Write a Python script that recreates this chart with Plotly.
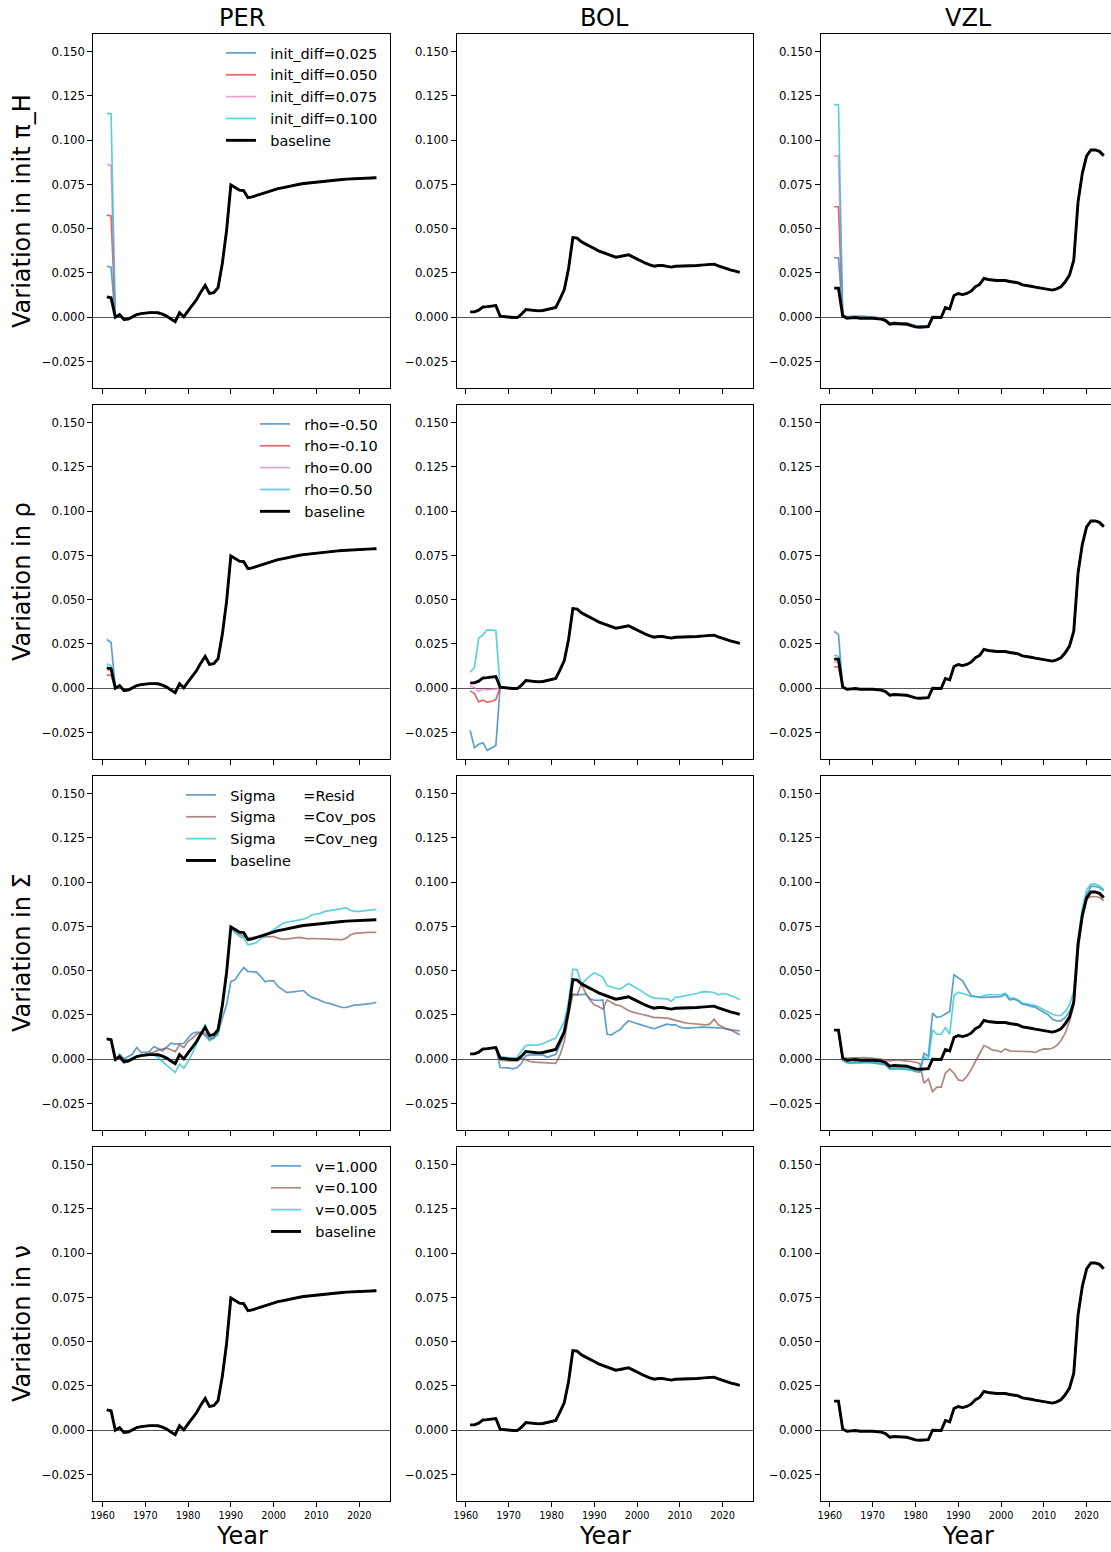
import plotly.graph_objects as go

# ---------------------------------------------------------------- data
years = list(range(1961, 2025))
countries = ["PER", "BOL", "VZL"]
row_titles = ["Variation in init π_H", "Variation in ρ", "Variation in Σ", "Variation in ν"]

per_base = [0.0115, 0.0110, 0.0000, 0.0015, -0.0013, -0.0010, 0.0002, 0.0015, 0.0020, 0.0025,
            0.0026, 0.0026, 0.0025, 0.0017, 0.0006, -0.0010, -0.0025, 0.0025, 0.0002, 0.0036,
            0.0068, 0.0100, 0.0143, 0.0180, 0.0134, 0.0138, 0.0166, 0.0303, 0.0490, 0.0747,
            0.0733, 0.0718, 0.0715, 0.0675, 0.0680, 0.0688, 0.0696, 0.0703, 0.0711, 0.0718,
            0.0726, 0.0731, 0.0737, 0.0743, 0.0747, 0.0751, 0.0755, 0.0758, 0.0761, 0.0764,
            0.0767, 0.0770, 0.0772, 0.0774, 0.0776, 0.0778, 0.0780, 0.0781, 0.0783, 0.0784,
            0.0785, 0.0786, 0.0787, 0.0788]
bol_base = [0.0030, 0.0030, 0.0040, 0.0058, 0.0060, 0.0062, 0.0066, 0.0006, 0.0002, 0.0000,
            -0.0002, -0.0002, 0.0017, 0.0043, 0.0040, 0.0038, 0.0036, 0.0038, 0.0043, 0.0049,
            0.0055, 0.0104, 0.0156, 0.0275, 0.0450, 0.0447, 0.0426, 0.0413, 0.0402, 0.0388,
            0.0375, 0.0366, 0.0358, 0.0349, 0.0339, 0.0343, 0.0347, 0.0353, 0.0341, 0.0328,
            0.0317, 0.0305, 0.0296, 0.0288, 0.0292, 0.0292, 0.0287, 0.0283, 0.0288, 0.0288,
            0.0289, 0.0290, 0.0291, 0.0292, 0.0294, 0.0296, 0.0298, 0.0300, 0.0290, 0.0281,
            0.0273, 0.0266, 0.0260, 0.0253]
vzl_base = [0.0164, 0.0164, 0.0006, -0.0006, -0.0004, -0.0002, -0.0006, -0.0004, -0.0006, -0.0006,
            -0.0009, -0.0011, -0.0019, -0.0040, -0.0036, -0.0036, -0.0036, -0.0040, -0.0047, -0.0055,
            -0.0057, -0.0053, -0.0053, 0.0000, 0.0000, -0.0002, 0.0055, 0.0047, 0.0123, 0.0134,
            0.0128, 0.0134, 0.0147, 0.0172, 0.0185, 0.0219, 0.0213, 0.0209, 0.0207, 0.0207,
            0.0207, 0.0202, 0.0198, 0.0194, 0.0183, 0.0181, 0.0175, 0.0170, 0.0166, 0.0162,
            0.0158, 0.0153, 0.0160, 0.0172, 0.0200, 0.0238, 0.0322, 0.0652, 0.0813, 0.0911,
            0.0945, 0.0945, 0.0937, 0.0913]

# init_diff runs: opening years that differ, after which they run with the baseline
init_labels = ["init_diff=0.025", "init_diff=0.050", "init_diff=0.075", "init_diff=0.100"]
per_init_head = [[0.0288, 0.0283], [0.0577, 0.0572], [0.0863, 0.0858], [0.1152, 0.1148]]
bol_init_head = [[], [], [], []]
vzl_init_head = [[0.0336, 0.0336], [0.0624, 0.0624], [0.0911, 0.0911], [0.1201, 0.1201]]
# VZL init runs sit a hair above the baseline through 1963-1983
vzl_init_mid = [0.0012, 0.0002, 0.0003, 0.0004, 0.0002, 0.0003, 0.0002, 0.0001, -0.0003, -0.0005,
                -0.0013, -0.0033, -0.0030, -0.0030, -0.0030, -0.0034, -0.0041, -0.0049, -0.0051,
                -0.0048, -0.0048]

rho_labels = ["rho=-0.50", "rho=-0.10", "rho=0.00", "rho=0.50"]
per_rho_head = [[0.0275, 0.0258], [0.0074, 0.0074], [0.0102, 0.0100], [0.0136, 0.0128]]
bol_rho_head = [[-0.0238, -0.0337, -0.0317, -0.0309, -0.0351, -0.0337, -0.0324],
                [-0.0015, -0.0030, -0.0077, -0.0068, -0.0079, -0.0074, -0.0064],
                [0.0013, 0.0004, -0.0017, -0.0006, -0.0009, -0.0008, -0.0004],
                [0.0090, 0.0117, 0.0283, 0.0303, 0.0330, 0.0328, 0.0326]]
vzl_rho_head = [[0.0320, 0.0304], [0.0120, 0.0120], [0.0148, 0.0146], [0.0185, 0.0181]]

NB = "\u00a0"
sigma_labels = ["Sigma" + NB * 6 + "=Resid", "Sigma" + NB * 6 + "=Cov_pos", "Sigma" + NB * 6 + "=Cov_neg"]
per_sig_resid = [0.0115, 0.0110, -0.0010, 0.0028, 0.0002, 0.0015, 0.0028, 0.0066, 0.0038, 0.0038,
                 0.0043, 0.0072, 0.0058, 0.0047, 0.0068, 0.0090, 0.0085, 0.0085, 0.0089, 0.0119,
                 0.0145, 0.0153, 0.0151, 0.0134, 0.0109, 0.0119, 0.0147, 0.0232, 0.0307, 0.0439,
                 0.0448, 0.0486, 0.0518, 0.0496, 0.0492, 0.0492, 0.0467, 0.0437, 0.0443, 0.0443,
                 0.0411, 0.0392, 0.0377, 0.0379, 0.0382, 0.0386, 0.0388, 0.0364, 0.0349, 0.0341,
                 0.0330, 0.0320, 0.0315, 0.0307, 0.0300, 0.0292, 0.0292, 0.0301, 0.0307, 0.0307,
                 0.0309, 0.0311, 0.0315, 0.0322]
per_sig_pos = [0.0115, 0.0110, -0.0004, 0.0006, -0.0023, -0.0013, 0.0002, 0.0015, 0.0024, 0.0028,
               0.0032, 0.0040, 0.0051, 0.0058, 0.0062, 0.0053, 0.0043, 0.0081, 0.0066, 0.0100,
               0.0119, 0.0141, 0.0151, 0.0147, 0.0119, 0.0122, 0.0156, 0.0307, 0.0496, 0.0740,
               0.0722, 0.0707, 0.0693, 0.0684, 0.0688, 0.0691, 0.0691, 0.0693, 0.0691, 0.0693,
               0.0684, 0.0678, 0.0678, 0.0680, 0.0684, 0.0688, 0.0684, 0.0680, 0.0682, 0.0682,
               0.0678, 0.0678, 0.0678, 0.0677, 0.0675, 0.0675, 0.0684, 0.0703, 0.0711, 0.0714,
               0.0716, 0.0716, 0.0716, 0.0716]
per_sig_neg = [0.0115, 0.0110, -0.0013, 0.0024, -0.0013, -0.0008, 0.0006, 0.0015, 0.0021, 0.0024,
               0.0028, 0.0024, 0.0009, -0.0013, -0.0036, -0.0055, -0.0075, -0.0028, -0.0051, -0.0013,
               0.0034, 0.0085, 0.0138, 0.0198, 0.0104, 0.0119, 0.0138, 0.0288, 0.0477, 0.0737,
               0.0714, 0.0695, 0.0684, 0.0646, 0.0652, 0.0658, 0.0680, 0.0699, 0.0714, 0.0731,
               0.0750, 0.0765, 0.0774, 0.0778, 0.0782, 0.0786, 0.0791, 0.0801, 0.0816, 0.0820,
               0.0824, 0.0835, 0.0839, 0.0844, 0.0850, 0.0855, 0.0855, 0.0840, 0.0835, 0.0835,
               0.0837, 0.0840, 0.0844, 0.0846]

bol_sig_resid = [0.0030, 0.0030, 0.0040, 0.0058, 0.0060, 0.0062, 0.0066, -0.0047, -0.0047, -0.0049,
                 -0.0055, -0.0047, -0.0023, 0.0019, 0.0024, 0.0024, 0.0024, 0.0024, 0.0011, 0.0019,
                 0.0028, 0.0081, 0.0141, 0.0288, 0.0369, 0.0364, 0.0364, 0.0367, 0.0341, 0.0333,
                 0.0333, 0.0335, 0.0141, 0.0138, 0.0153, 0.0166, 0.0194, 0.0217, 0.0209, 0.0202,
                 0.0194, 0.0185, 0.0179, 0.0171, 0.0181, 0.0190, 0.0198, 0.0194, 0.0194, 0.0181,
                 0.0175, 0.0175, 0.0175, 0.0179, 0.0181, 0.0181, 0.0181, 0.0179, 0.0177, 0.0175,
                 0.0171, 0.0164, 0.0151, 0.0138]
bol_sig_pos = [0.0030, 0.0030, 0.0040, 0.0058, 0.0060, 0.0062, 0.0066, -0.0004, -0.0008, -0.0009,
               -0.0009, -0.0009, 0.0006, -0.0004, -0.0013, -0.0017, -0.0019, -0.0021, -0.0023, -0.0023,
               -0.0023, 0.0024, 0.0100, 0.0251, 0.0364, 0.0364, 0.0424, 0.0373, 0.0335, 0.0307,
               0.0298, 0.0283, 0.0335, 0.0320, 0.0307, 0.0303, 0.0288, 0.0275, 0.0266, 0.0258,
               0.0254, 0.0249, 0.0241, 0.0235, 0.0235, 0.0234, 0.0232, 0.0226, 0.0219, 0.0213,
               0.0207, 0.0203, 0.0200, 0.0196, 0.0194, 0.0194, 0.0198, 0.0226, 0.0194, 0.0181,
               0.0171, 0.0166, 0.0162, 0.0160]
bol_sig_neg = [0.0030, 0.0030, 0.0040, 0.0058, 0.0060, 0.0062, 0.0066, 0.0015, 0.0011, 0.0009,
               0.0008, 0.0011, 0.0047, 0.0077, 0.0079, 0.0079, 0.0081, 0.0089, 0.0100, 0.0109,
               0.0119, 0.0166, 0.0213, 0.0326, 0.0509, 0.0505, 0.0424, 0.0448, 0.0471, 0.0488,
               0.0477, 0.0464, 0.0416, 0.0407, 0.0401, 0.0396, 0.0411, 0.0428, 0.0414, 0.0401,
               0.0386, 0.0369, 0.0354, 0.0345, 0.0345, 0.0345, 0.0341, 0.0326, 0.0350, 0.0352,
               0.0358, 0.0364, 0.0367, 0.0371, 0.0379, 0.0382, 0.0380, 0.0377, 0.0364, 0.0371,
               0.0367, 0.0360, 0.0349, 0.0337]

vzl_sig_resid = [0.0164, 0.0164, -0.0004, -0.0017, -0.0021, -0.0017, -0.0019, -0.0017, -0.0017, -0.0019,
                 -0.0023, -0.0024, -0.0032, -0.0055, -0.0051, -0.0051, -0.0053, -0.0055, -0.0060, -0.0070,
                 -0.0073, 0.0034, 0.0015, 0.0260, 0.0236, 0.0241, 0.0254, 0.0270, 0.0477, 0.0462,
                 0.0443, 0.0401, 0.0360, 0.0354, 0.0349, 0.0349, 0.0351, 0.0351, 0.0352, 0.0354,
                 0.0367, 0.0335, 0.0339, 0.0330, 0.0311, 0.0307, 0.0298, 0.0294, 0.0279, 0.0266,
                 0.0251, 0.0226, 0.0217, 0.0217, 0.0236, 0.0270, 0.0326, 0.0646, 0.0816, 0.0929,
                 0.0976, 0.0976, 0.0970, 0.0951]
vzl_sig_pos = [0.0164, 0.0164, -0.0004, 0.0006, 0.0008, 0.0009, 0.0011, 0.0009, 0.0008, 0.0006,
               0.0004, 0.0000, -0.0006, -0.0009, -0.0006, -0.0004, -0.0008, -0.0009, -0.0013, -0.0017,
               -0.0024, -0.0136, -0.0111, -0.0183, -0.0158, -0.0158, -0.0079, -0.0055, -0.0079, -0.0117,
               -0.0122, -0.0098, -0.0060, -0.0013, 0.0028, 0.0077, 0.0066, 0.0051, 0.0049, 0.0040,
               0.0058, 0.0047, 0.0045, 0.0045, 0.0043, 0.0045, 0.0043, 0.0038, 0.0051, 0.0058,
               0.0057, 0.0062, 0.0077, 0.0104, 0.0147, 0.0213, 0.0307, 0.0609, 0.0797, 0.0904,
               0.0919, 0.0919, 0.0914, 0.0895]
vzl_sig_neg = [0.0164, 0.0164, -0.0008, -0.0021, -0.0024, -0.0021, -0.0021, -0.0019, -0.0019, -0.0021,
               -0.0024, -0.0026, -0.0032, -0.0057, -0.0055, -0.0055, -0.0055, -0.0057, -0.0062, -0.0066,
               -0.0070, 0.0015, -0.0004, 0.0166, 0.0141, 0.0141, 0.0179, 0.0141, 0.0360, 0.0379,
               0.0373, 0.0364, 0.0354, 0.0354, 0.0349, 0.0360, 0.0364, 0.0364, 0.0364, 0.0364,
               0.0373, 0.0345, 0.0345, 0.0335, 0.0317, 0.0313, 0.0307, 0.0303, 0.0292, 0.0279,
               0.0266, 0.0254, 0.0247, 0.0247, 0.0270, 0.0307, 0.0382, 0.0684, 0.0853, 0.0957,
               0.0989, 0.0989, 0.0980, 0.0957]

# nu runs coincide with the baseline throughout
nu_labels = ["v=1.000", "v=0.100", "v=0.005"]

y_tick_vals = [-0.025, 0.0, 0.025, 0.05, 0.075, 0.1, 0.125, 0.15]
y_tick_text = ["\u22120.025", "0.000", "0.025", "0.050", "0.075", "0.100", "0.125", "0.150"]
x_tick_vals = [1960, 1970, 1980, 1990, 2000, 2010, 2020]

# ---------------------------------------------------------------- styling
BLUE, RED, PINK, CYAN, BROWN = "#1f77b4", "#d62728", "#e377c2", "#17becf", "#8c564b"
FONT = "DejaVu Sans"
W, H = 1111, 1552
col_px = [(93.3, 389.8), (456.7, 753.2), (820.7, 1111.0)]
row_px = [(34, 388), (405, 759), (776, 1130), (1147, 1501)]
X0, X1 = 1957.85, 2027.15
Y0, Y1 = -0.04, 0.16
px_per_year = (col_px[0][1] - col_px[0][0]) / (X1 - X0)
LEG_PAD = NB * 2  # widens the gap between legend swatch and its label


def joined(head, base):
    seq = list(head)
    return seq + base[len(seq):]


bases = [per_base, bol_base, vzl_base]
panels = {}
# row 0: init_diff
heads = [per_init_head, bol_init_head, vzl_init_head]
for c in range(3):
    ser = []
    for i, lab in enumerate(init_labels):
        head = heads[c][i] + (vzl_init_mid if c == 2 else [])
        ser.append((lab, [BLUE, RED, PINK, CYAN][i], joined(head, bases[c])))
    panels[(0, c)] = ser
# row 1: rho
heads = [per_rho_head, bol_rho_head, vzl_rho_head]
for c in range(3):
    panels[(1, c)] = [(lab, [BLUE, RED, PINK, CYAN][i], joined(heads[c][i], bases[c]))
                      for i, lab in enumerate(rho_labels)]
# row 2: Sigma
sig = [[per_sig_resid, per_sig_pos, per_sig_neg],
       [bol_sig_resid, bol_sig_pos, bol_sig_neg],
       [vzl_sig_resid, vzl_sig_pos, vzl_sig_neg]]
for c in range(3):
    panels[(2, c)] = [(lab, col, sig[c][i]) for i, (lab, col) in
                      enumerate(zip(sigma_labels, [BLUE, BROWN, CYAN]))]
# row 3: nu
for c in range(3):
    panels[(3, c)] = [(lab, col, bases[c]) for lab, col in zip(nu_labels, [BLUE, BROWN, CYAN])]

fig = go.Figure()
legend_names = ["legend", "legend2", "legend3", "legend4"]

for r in range(4):
    for c in range(3):
        k = r * 3 + c + 1
        xa = "x" if k == 1 else f"x{k}"
        ya = "y" if k == 1 else f"y{k}"
        for lab, col, vals in panels[(r, c)]:
            fig.add_trace(go.Scatter(x=years, y=vals, mode="lines", name=LEG_PAD + lab,
                                     line=dict(color=col, width=1.7), opacity=0.7,
                                     xaxis=xa, yaxis=ya, showlegend=(c == 0),
                                     legend=legend_names[r], hoverinfo="skip"))
        fig.add_trace(go.Scatter(x=years, y=bases[c], mode="lines", name=LEG_PAD + "baseline",
                                 line=dict(color="black", width=2.9),
                                 xaxis=xa, yaxis=ya, showlegend=(c == 0),
                                 legend=legend_names[r], hoverinfo="skip"))

        xl, xr = col_px[c]
        yt, yb = row_px[r]
        x_hi = X0 + (xr - xl) / px_per_year
        xkey = "xaxis" if k == 1 else f"xaxis{k}"
        ykey = "yaxis" if k == 1 else f"yaxis{k}"
        fig.layout[xkey] = dict(
            domain=[xl / W, xr / W], anchor=ya, range=[X0, x_hi], automargin=False,
            showgrid=False, zeroline=False, showline=True, linecolor="black", linewidth=1,
            mirror=True, ticks="outside", ticklen=5, tickwidth=1, tickcolor="black",
            tickvals=x_tick_vals, showticklabels=(r == 3),
            tickfont=dict(family=FONT, size=9.7, color="black"))
        fig.layout[ykey] = dict(
            domain=[1 - yb / H, 1 - yt / H], anchor=xa, range=[Y0, Y1], automargin=False,
            showgrid=False, zeroline=True, zerolinecolor="#555555", zerolinewidth=1,
            showline=True, linecolor="black", linewidth=1, mirror=(c < 2),
            ticks="outside", ticklen=5, tickwidth=1, tickcolor="black",
            tickvals=y_tick_vals, ticktext=y_tick_text,
            tickfont=dict(family=FONT, size=11.7, color="black"))

annotations = []
for c, name in enumerate(countries):
    xl = col_px[0][0] + c * (col_px[1][0] - col_px[0][0])
    xr = col_px[0][1] + c * (col_px[1][0] - col_px[0][0])
    annotations.append(dict(text=name, x=(xl + xr) / 2 / W, y=1 - 18 / H, xref="paper", yref="paper",
                            xanchor="center", yanchor="middle", showarrow=False,
                            font=dict(family=FONT, size=24, color="black")))
    annotations.append(dict(text="Year", x=(xl + xr) / 2 / W, y=1 - 1536 / H, xref="paper", yref="paper",
                            xanchor="center", yanchor="middle", showarrow=False,
                            font=dict(family=FONT, size=24, color="black")))
for r, t in enumerate(row_titles):
    yt, yb = row_px[r]
    annotations.append(dict(text=t, x=22 / W, y=1 - (yt + yb) / 2 / H, xref="paper", yref="paper",
                            xanchor="center", yanchor="middle", textangle=-90, showarrow=False,
                            font=dict(family=FONT, size=24, color="black")))

leg_layout = {}
for r in range(4):
    leg_layout[legend_names[r]] = dict(
        x=383 / W, y=1 - (row_px[r][0] + 3) / H, xanchor="right", yanchor="top",
        bgcolor="rgba(0,0,0,0)", borderwidth=0,
        font=dict(family=FONT, size=14.5, color="black"))

fig.update_layout(width=W, height=H, margin=dict(l=0, r=0, t=0, b=0, autoexpand=False),
                  template="none", paper_bgcolor="white", plot_bgcolor="white",
                  annotations=annotations, **leg_layout)
fig.write_html("out.html")
